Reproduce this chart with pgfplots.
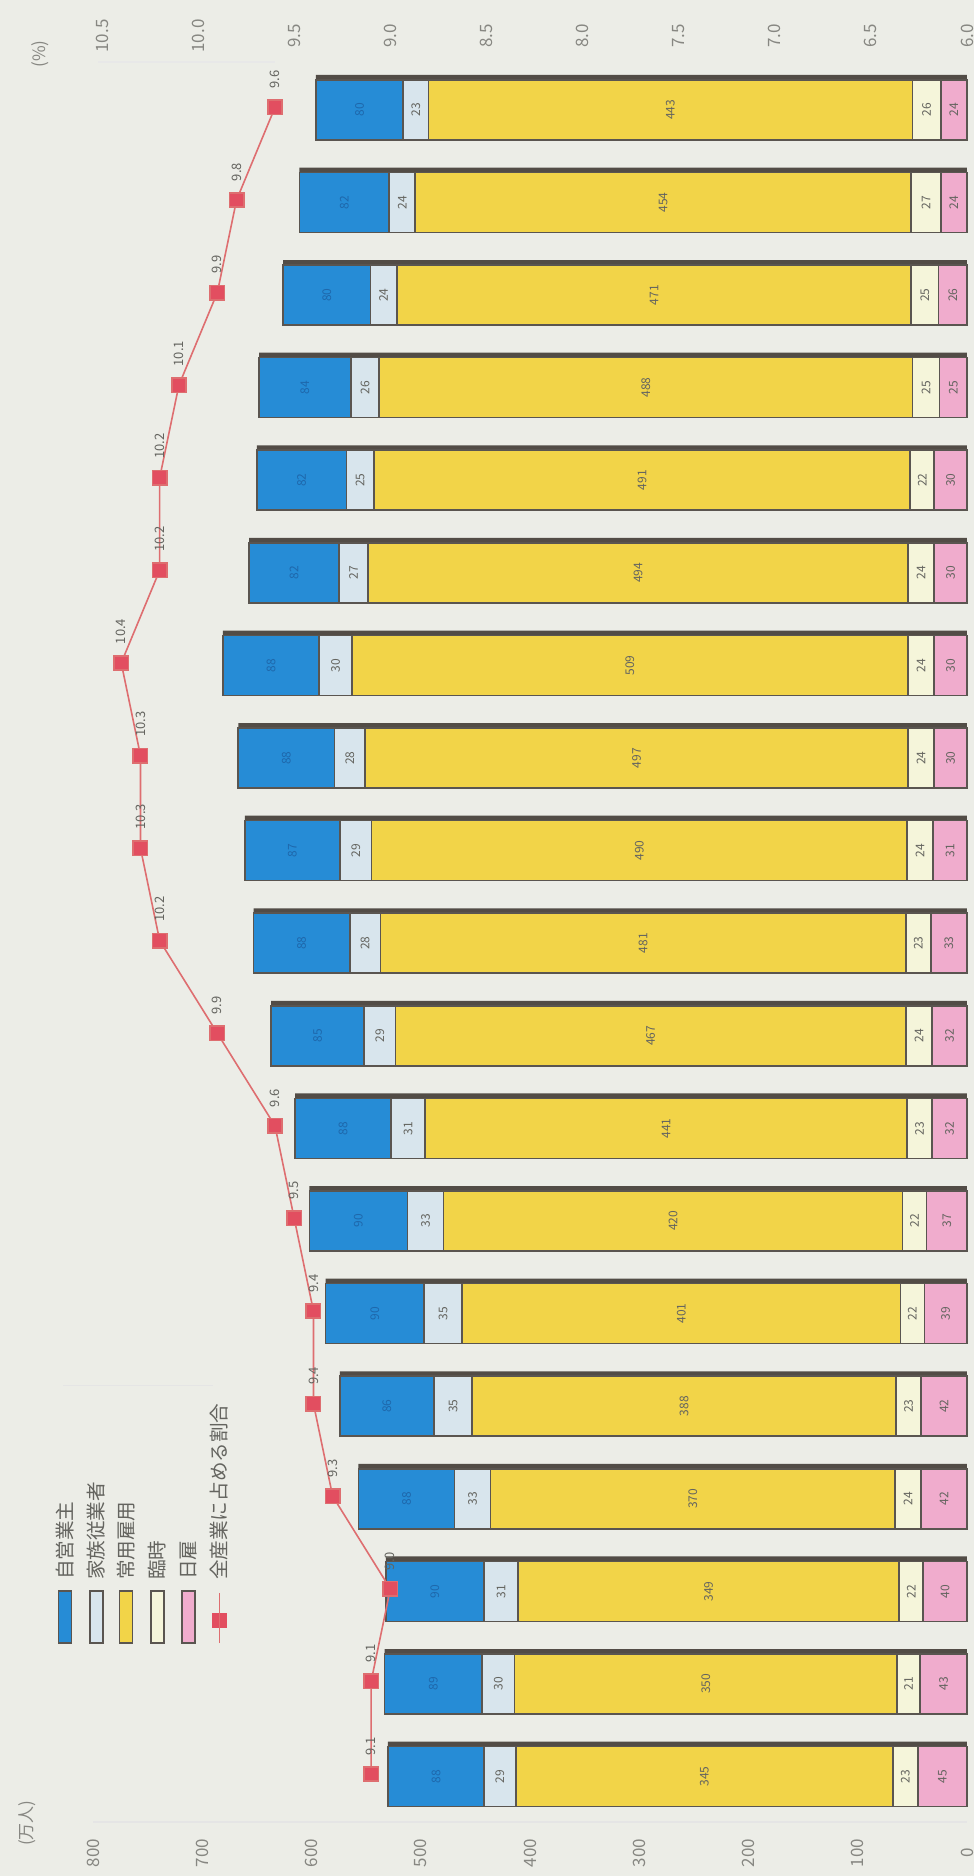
\documentclass[border=0pt]{standalone}
\usepackage{fontspec}
\setmainfont{Noto Sans CJK JP}
\usepackage{pgfplots}
\usepackage{pgfplotstable}
\pgfplotsset{compat=1.18}
\definecolor{cBlue}{RGB}{38,140,214}
\definecolor{cBlueTxt}{RGB}{30,104,172}
\definecolor{cLBlue}{RGB}{216,229,237}
\definecolor{cYellow}{RGB}{242,212,72}
\definecolor{cCream}{RGB}{245,245,218}
\definecolor{cPink}{RGB}{240,172,205}
\definecolor{cShadow}{RGB}{82,76,70}
\definecolor{cLine}{RGB}{90,85,80}
\definecolor{cBg}{RGB}{236,237,231}
\definecolor{cRed}{RGB}{226,78,96}
\definecolor{cRedLine}{RGB}{222,110,112}
\definecolor{cTick}{RGB}{135,135,130}
\definecolor{cLab}{RGB}{100,100,95}

\pgfplotstableread{
k b f j t p r
1 88 29 345 23 45 9.1
2 89 30 350 21 43 9.1
3 90 31 349 22 40 9.0
4 88 33 370 24 42 9.3
5 86 35 388 23 42 9.4
6 90 35 401 22 39 9.4
7 90 33 420 22 37 9.5
8 88 31 441 23 32 9.6
9 85 29 467 24 32 9.9
10 88 28 481 23 33 10.2
11 87 29 490 24 31 10.3
12 88 28 497 24 30 10.3
13 88 30 509 24 30 10.4
14 82 27 494 24 30 10.2
15 82 25 491 22 30 10.2
16 84 26 488 25 25 10.1
17 80 24 471 25 26 9.9
18 82 24 454 27 24 9.8
19 80 23 443 26 24 9.6
}\data

\pgfplotsset{base/.style={scale only axis, width=437pt, height=880pt,
  at={(0pt,0pt)}, anchor=south west,
  xmin=0, xmax=800, ymin=0.482, ymax=19.49, x dir=reverse, clip=false}}
\tikzset{legtxt/.style={rotate=90, anchor=west, inner sep=1pt, font=\fontsize{9.8}{10}\selectfont, text=cLab},
  legbox/.style={draw=cLine, line width=0.6pt, minimum width=6.5pt, minimum height=26pt, inner sep=0pt}}

\begin{document}
\begin{tikzpicture}
\fill[cBg] (-46.5pt,-27pt) rectangle (440.5pt,911pt);
\useasboundingbox (-46.5pt,-27pt) rectangle (440.5pt,911pt);

% shadow bars (totals)
\begin{axis}[base, hide axis, xbar, bar width=0.70, bar shift=0]
\addplot[fill=cShadow, draw=none] table[x expr={\thisrow{b}+\thisrow{f}+\thisrow{j}+\thisrow{t}+\thisrow{p}}, y=k]{\data};
\draw[black!10, line width=0.6pt] (axis cs:827,5.2) -- (axis cs:690,5.2);
\end{axis}

% main stacked bars
\begin{axis}[base, xbar stacked, bar width=0.648, bar shift=-0.027,
  axis y line=none, ytick=\empty, axis x line*=bottom,
  x axis line style={draw=black!10, line width=0.6pt},
  xtick={0,100,200,300,400,500,600,700,800}, major tick length=0pt,
  xticklabel style={yshift=-15.5pt, rotate=90, anchor=center,
    font=\fontsize{8.5}{9}\selectfont, text=cTick},
  /pgf/number format/assume math mode=true]
\addplot[fill=cPink, draw=cLine, line width=0.8pt] table[x=p, y=k]{\data};
\addplot[fill=cCream, draw=cLine, line width=0.8pt] table[x=t, y=k]{\data};
\addplot[fill=cYellow, draw=cLine, line width=0.8pt] table[x=j, y=k]{\data};
\addplot[fill=cLBlue, draw=cLine, line width=0.8pt] table[x=f, y=k]{\data};
\addplot[fill=cBlue, draw=cLine, line width=0.8pt] table[x=b, y=k]{\data};
% legend
\node[legbox, fill=cBlue] at (axis cs:825.6,2.695) {};
\node[legbox, fill=cLBlue] at (axis cs:796.8,2.695) {};
\node[legbox, fill=cYellow] at (axis cs:769.8,2.695) {};
\node[legbox, fill=cCream] at (axis cs:741.0,2.695) {};
\node[legbox, fill=cPink] at (axis cs:712.6,2.695) {};
\draw[cRedLine, line width=0.8pt] (axis cs:684.2,2.415) -- (axis cs:684.2,2.955);
\node[fill=cRed, minimum size=7.2pt, inner sep=0pt] at (axis cs:684.2,2.66) {};
\node[legtxt] at (axis cs:825.6,3.07) {自営業主};
\node[legtxt] at (axis cs:796.8,3.07) {家族従業者};
\node[legtxt] at (axis cs:769.8,3.07) {常用雇用};
\node[legtxt] at (axis cs:741.0,3.07) {臨時};
\node[legtxt] at (axis cs:712.6,3.07) {日雇};
\node[legtxt] at (axis cs:684.2,3.07) {全産業に占める割合};
\end{axis}

% segment labels
\begin{axis}[base, hide axis, nodes near coords, point meta=explicit symbolic,
  every node near coord/.style={rotate=90, anchor=center, inner sep=0pt,
    font=\fontsize{6}{6}\selectfont, text=cLab}]
\addplot[draw=none, mark=none] table[x expr={\thisrow{p}/2}, y expr={\thisrow{k}-0.027}, meta=p]{\data};
\addplot[draw=none, mark=none] table[x expr={\thisrow{p}+\thisrow{t}/2}, y expr={\thisrow{k}-0.027}, meta=t]{\data};
\addplot[draw=none, mark=none] table[x expr={\thisrow{p}+\thisrow{t}+\thisrow{j}/2}, y expr={\thisrow{k}-0.027}, meta=j]{\data};
\addplot[draw=none, mark=none] table[x expr={\thisrow{p}+\thisrow{t}+\thisrow{j}+\thisrow{f}/2}, y expr={\thisrow{k}-0.027}, meta=f]{\data};
\addplot[draw=none, mark=none, every node near coord/.append style={text=cBlueTxt}] table[x expr={\thisrow{p}+\thisrow{t}+\thisrow{j}+\thisrow{f}+\thisrow{b}/2}, y expr={\thisrow{k}-0.027}, meta=b]{\data};
\end{axis}

% percentage axis and line
\begin{axis}[base, xmin=6, xmax=10.547,
  axis y line=none, ytick=\empty, axis x line*=top,
  x axis line style={draw=none}, major tick length=0pt,
  xtick={6,6.5,7,7.5,8,8.5,9,9.5,10,10.5},
  xticklabel style={yshift=13pt, rotate=90, anchor=center,
    font=\fontsize{8.5}{9}\selectfont, text=cTick,
    /pgf/number format/.cd, fixed, fixed zerofill, precision=1},
  /pgf/number format/assume math mode=true]
\draw[black!9, line width=0.6pt] (axis cs:10.52,19.49) -- (axis cs:9.6,19.49);
\addplot[cRedLine, line width=0.8pt, mark=square*, mark size=3.6pt,
  mark options={fill=cRed, draw=none},
  nodes near coords, point meta=explicit symbolic,
  every node near coord/.style={rotate=90, anchor=west, inner xsep=9pt, inner ysep=1pt,
    font=\fontsize{6.5}{7}\selectfont, text=cLab}]
  table[x=r, y=k, meta=r]{\data};
\end{axis}

\node[rotate=90, font=\fontsize{8.5}{9}\selectfont, text=cTick] at (-33pt,-0.5pt) {(万人)};
\node[rotate=90, font=\fontsize{8.5}{9}\selectfont, text=cTick] at (-26.5pt,884pt) {(\%)};
\end{tikzpicture}
\end{document}
